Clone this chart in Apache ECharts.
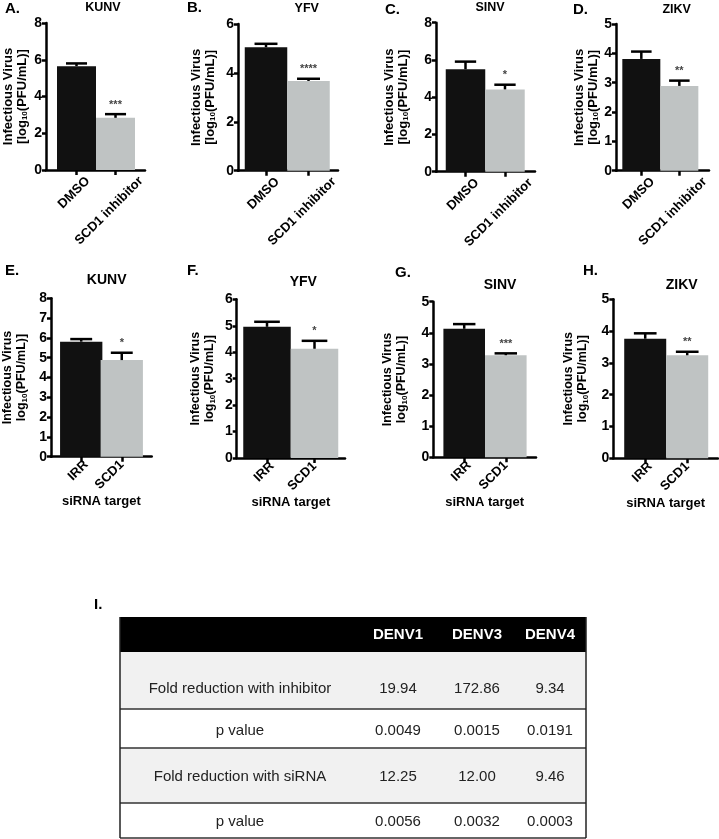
<!DOCTYPE html>
<html><head><meta charset="utf-8">
<script src="https://cdn.jsdelivr.net/npm/echarts@6/dist/echarts.min.js"></script>
<style>html,body{margin:0;padding:0;background:#fff}#c{width:719px;height:839px}</style>
</head><body><div id="c"></div>
<script>
// ---------- data ----------
const panelLetters = ['A.','B.','C.','D.','E.','F.','G.','H.'];
const viruses = ['KUNV','YFV','SINV','ZIKV','KUNV','YFV','SINV','ZIKV'];
const inhibitorCategories = ['DMSO','SCD1 inhibitor'];
const sirnaCategories = ['IRR','SCD1'];
const sirnaAxisName = 'siRNA target';
const yAxisMax = [8,6,8,5,8,6,5,5];
const yAxisInterval = [2,2,2,1,1,1,1,1];
const controlMeans = [5.65,5.05,5.50,3.81,5.81,4.96,4.13,3.76];
const treatedMeans = [2.84,3.67,4.42,2.89,4.88,4.13,3.28,3.24];
const controlErrors = [0.15,0.14,0.41,0.25,0.13,0.19,0.15,0.17];
const treatedErrors = [0.20,0.09,0.25,0.18,0.37,0.30,0.06,0.11];
const significance = ['***','****','*','**','*','*','***','**'];
const tableLetter = 'I.';
const tableColumns = ['DENV1','DENV3','DENV4'];
const tableRowLabels = ['Fold reduction with inhibitor','p value','Fold reduction with siRNA','p value'];
const tableRowValues = [
  ['19.94','172.86','9.34'],
  ['0.0049','0.0015','0.0191'],
  ['12.25','12.00','9.46'],
  ['0.0056','0.0032','0.0003']
];

// ---------- layout (positions / styles only) ----------
const FONT = '"Liberation Sans", Arial, Helvetica, sans-serif';
const layout = [
  {left:46,   top:23,    width:99,    height:147,   xMin:-0.782, xMax:1.756, barW:39,   nameGap:17, lx:5,   ly:9,     tx:103,   ty:7.5},
  {left:238,  top:24,    width:100,   height:146.7, xMin:-0.659, xMax:1.694, barW:42.5, nameGap:21, lx:187, ly:8,     tx:306.7, ty:9},
  {left:436,  top:22.7,  width:99,    height:149,   xMin:-0.747, xMax:1.76,  barW:39.5, nameGap:26, lx:385, ly:10,    tx:490,   ty:8},
  {left:616,  top:24,    width:93,    height:146.7, xMin:-0.666, xMax:1.78,  barW:38,   nameGap:16, lx:573, ly:10,    tx:676.7, ty:10},
  {left:46.7, top:298.3, width:105,   height:158.4, xMin:-0.745, xMax:1.738, barW:42.3, nameGap:22, lx:5,   ly:271,   tx:106.7, ty:280.5},
  {left:236.7,top:299.3, width:108.3, height:158.7, xMin:-0.638, xMax:1.642, barW:47.5, nameGap:20, lx:187, ly:271.7, tx:303.3, ty:281.7},
  {left:433.3,top:301.7, width:102.7, height:155.6, xMin:-0.743, xMax:1.726, barW:41.6, nameGap:25, lx:395, ly:273.3, tx:500,   ty:285},
  {left:613.3,top:299.3, width:104.7, height:159,   xMin:-0.76,  xMax:1.733, barW:42,   nameGap:24, lx:583, ly:271.7, tx:681.7, ty:285}
];
// pixel shift of the rotated label end from its tick (layout)
const topLabelShift = [11.3, 25.5];
const bottomLabelShift = [5, 0];
const BLACK = '#111111';
const GRAY = '#bfc3c3';
const labelFont = {color:'#000', fontSize:13, fontWeight:'bold', fontFamily:FONT};

const grids = [], xAxes = [], yAxes = [], series = [], graphics = [];

layout.forEach((L, i) => {
  const bottomRow = i >= 4;
  const cats = bottomRow ? sirnaCategories : inhibitorCategories;
  const unit = L.width / (L.xMax - L.xMin);
  const shift = bottomRow ? bottomLabelShift : topLabelShift;
  const labelVals = [0 + shift[0] / unit, 1 + shift[1] / unit];
  grids.push({left:L.left, top:L.top, width:L.width, height:L.height, containLabel:false});
  xAxes.push({
    gridIndex:i, type:'value', min:L.xMin, max:L.xMax,
    axisLine:{show:true, onZero:false, lineStyle:{color:'#000', width:2.5}},
    axisTick:{show:true, customValues:[0,1], length:5, lineStyle:{color:'#000', width:2.5}},
    axisLabel:Object.assign({show:true, customValues:labelVals,
      formatter:v => (v < labelVals[1] - 0.01 ? cats[0] : cats[1]),
      rotate:45, margin: bottomRow ? 6 : 9, showMinLabel:true, showMaxLabel:true}, labelFont),
    splitLine:{show:false},
    name: bottomRow ? sirnaAxisName : '',
    nameLocation:'middle', nameGap: (i===6 ? 37 : 33),
    nameTextStyle:{color:'#000', fontSize:13, fontWeight:'bold', fontFamily:FONT}
  });
  const nameSize = bottomRow ? 12.5 : 13;
  yAxes.push({
    gridIndex:i, type:'value', min:0, max:yAxisMax[i], interval:yAxisInterval[i],
    axisLine:{show:true, onZero:false, lineStyle:{color:'#000', width:2.5}},
    axisTick:{show:true, length:4, lineStyle:{color:'#000', width:2.5}},
    axisLabel:{margin:4, color:'#000', fontSize:14, fontWeight:'bold', fontFamily:FONT},
    splitLine:{show:false},
    name: bottomRow ? 'Infectious Virus\nlog{sub|10}(PFU/mL)]' : 'Infectious Virus\n[log{sub|10}(PFU/mL)]',
    nameLocation:'middle', nameGap:L.nameGap, nameRotate:90,
    nameTextStyle:{color:'#000', fontSize:nameSize, fontWeight:'bold', fontFamily:FONT, lineHeight:14,
      rich:{sub:{fontSize:8, fontWeight:'bold', fontFamily:FONT, color:'#000', verticalAlign:'bottom', lineHeight:14}}}
  });
  series.push({
    type:'bar', xAxisIndex:i, yAxisIndex:i, barWidth:L.barW, z:2,
    data:[
      {value:[0, controlMeans[i]], itemStyle:{color:BLACK}},
      {value:[1, treatedMeans[i]], itemStyle:{color:GRAY}}
    ]
  });
  series.push({
    type:'custom', xAxisIndex:i, yAxisIndex:i, z:5,
    data:[
      [0, controlMeans[i], controlMeans[i] + controlErrors[i]],
      [1, treatedMeans[i], treatedMeans[i] + treatedErrors[i]]
    ],
    renderItem:(params, api) => {
      const x = api.value(0), m = api.value(1), u = api.value(2);
      const p0 = api.coord([x, m]), p1 = api.coord([x, u]);
      const half = api.size([1, 0])[0] * 0.27;
      const ch = [
        {type:'line', shape:{x1:p0[0], y1:p0[1], x2:p1[0], y2:p1[1]}, style:{stroke:'#000', lineWidth:2.5}},
        {type:'line', shape:{x1:p1[0]-half, y1:p1[1], x2:p1[0]+half, y2:p1[1]}, style:{stroke:'#000', lineWidth:2.5}}
      ];
      if (params.dataIndex === 1) {
        ch.push({type:'text', x:p1[0], y:p1[1]-4,
          style:{text:significance[i], fill:'#444', font:'bold 11px ' + FONT, align:'center', verticalAlign:'bottom'}});
      }
      return {type:'group', children:ch};
    }
  });
  graphics.push({type:'text', left:L.lx, top:L.ly - 8,
    style:{text:panelLetters[i], fill:'#000', font:'bold 15px ' + FONT}});
  graphics.push({type:'text', x:L.tx, y:L.ty,
    style:{text:viruses[i], fill:'#000', font:'bold ' + (bottomRow ? 14 : 12.5) + 'px ' + FONT, align:'center', verticalAlign:'middle'}});
});

// ---------- table ----------
const T = {left:120, right:586, headTop:617, headBottom:652, labelX:240, colX:[398,477,550], headY:635,
  rowTops:[652,709,748,803], rowBottoms:[709,748,803,838], rowTextY:[689,731,777,822],
  fills:['#f1f1f1','#ffffff','#f1f1f1','#ffffff']};
graphics.push({type:'text', left:94, top:597, style:{text:tableLetter, fill:'#000', font:'bold 15px ' + FONT}});
graphics.push({type:'rect', shape:{x:T.left, y:T.headTop, width:T.right-T.left, height:T.headBottom-T.headTop}, style:{fill:'#000'}});
tableColumns.forEach((c, j) => {
  graphics.push({type:'text', x:T.colX[j], y:T.headY,
    style:{text:c, fill:'#fff', font:'bold 15px ' + FONT, align:'center', verticalAlign:'middle'}});
});
tableRowLabels.forEach((lab, r) => {
  graphics.push({type:'rect', shape:{x:T.left, y:T.rowTops[r], width:T.right-T.left, height:T.rowBottoms[r]-T.rowTops[r]},
    style:{fill:T.fills[r]}});
  graphics.push({type:'text', x:T.labelX, y:T.rowTextY[r],
    style:{text:lab, fill:'#222', font:'15px ' + FONT, align:'center', verticalAlign:'middle'}});
  tableRowValues[r].forEach((v, j) => {
    graphics.push({type:'text', x:T.colX[j], y:T.rowTextY[r],
      style:{text:v, fill:'#222', font:'15px ' + FONT, align:'center', verticalAlign:'middle'}});
  });
  graphics.push({type:'line', shape:{x1:T.left, y1:T.rowBottoms[r], x2:T.right, y2:T.rowBottoms[r]},
    style:{stroke:'#333', lineWidth:1.5}, z:10});
});
graphics.push({type:'line', shape:{x1:T.left, y1:T.headTop, x2:T.left, y2:838}, style:{stroke:'#222', lineWidth:1.5}, z:10});
graphics.push({type:'line', shape:{x1:T.right, y1:T.headTop, x2:T.right, y2:838}, style:{stroke:'#222', lineWidth:1.5}, z:10});

const chart = echarts.init(document.getElementById('c'), null, {renderer:'canvas'});
chart.setOption({
  animation:false,
  backgroundColor:'#fff',
  grid:grids, xAxis:xAxes, yAxis:yAxes, series:series,
  graphic:{elements:graphics}
});
</script>
</body></html>
